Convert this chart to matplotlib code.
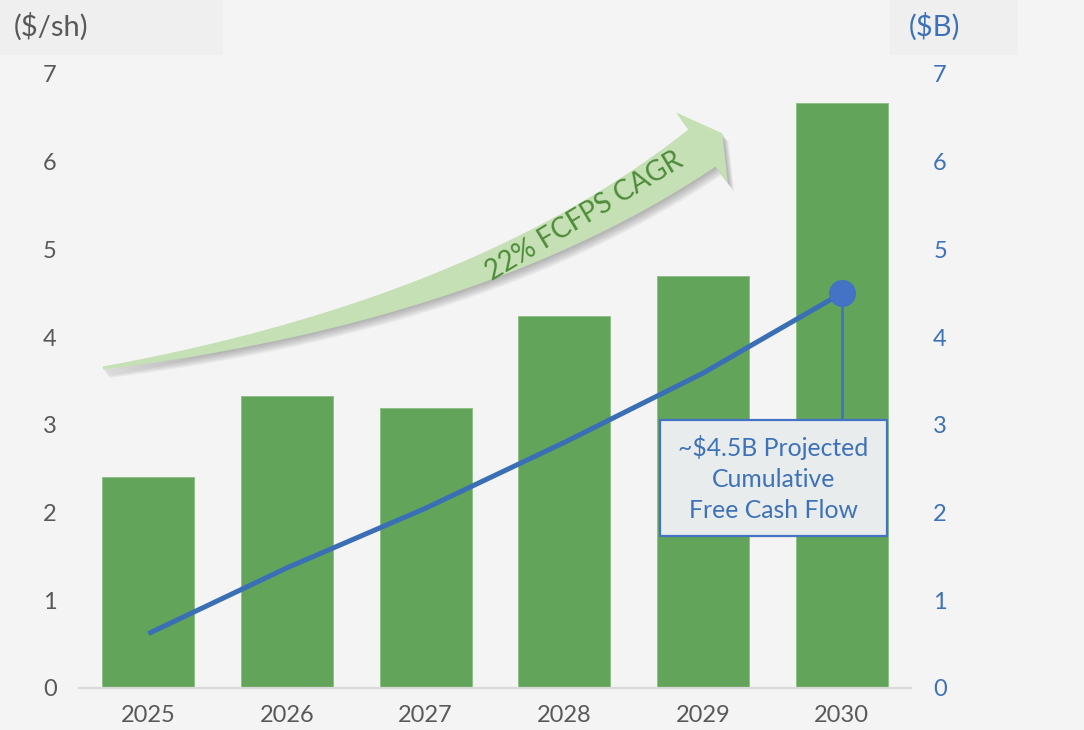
import numpy as np
import matplotlib.pyplot as plt
from matplotlib.patches import Polygon, Rectangle

plt.rcParams['font.family'] = ['Lato', 'DejaVu Sans']

# Free cash flow per share (bars) and cumulative free cash flow (line)
years = ['2025', '2026', '2027', '2028', '2029', '2030']
fcfps = [2.41, 3.33, 3.19, 4.24, 4.70, 6.67]          # $/sh
cum_fcf = [0.62, 1.37, 2.05, 2.80, 3.59, 4.5]          # $B
y_ticks = [0, 1, 2, 3, 4, 5, 6, 7]
cagr_label = '22% FCFPS CAGR'
box_lines = ['~$4.5B Projected', 'Cumulative', 'Free Cash Flow']

BG = '#f4f4f4'
HEADER_BG = '#efefef'
BAR_GREEN = '#62a55a'
ARROW_GREEN = '#c5e0b4'
TEXT_GREEN = '#4e8b3a'
LINE_BLUE = '#3a6fb5'
DOT_BLUE = '#4472c4'
AXIS_BLUE = '#3d72b8'
GREY_TXT = '#595959'

W, H = 1084, 730
fig = plt.figure(figsize=(W / 100, H / 100), dpi=100, facecolor=BG)

# header strips behind the axis unit labels
fig.add_artist(Rectangle((0, 1 - 55 / H), 223 / W, 55 / H, transform=fig.transFigure,
                         facecolor=HEADER_BG, edgecolor='none', zorder=-1))
fig.add_artist(Rectangle((890 / W, 1 - 55 / H), 128 / W, 55 / H, transform=fig.transFigure,
                         facecolor=HEADER_BG, edgecolor='none', zorder=-1))
fig.text(51.5 / W, 1 - 27 / H, '($/sh)', ha='center', va='center', fontsize=21, color=GREY_TXT)
fig.text(935 / W, 1 - 27 / H, '($B)', ha='center', va='center', fontsize=21, color=AXIS_BLUE)

ax = fig.add_axes([79 / W, 1 - 688 / H, (911 - 79) / W, (688 - 74) / H])
ax.set_facecolor('none')
x = np.arange(len(years))
ax.bar(x, fcfps, width=0.665, color=BAR_GREEN, edgecolor='#8fc186', linewidth=0.7, zorder=2)
ax.set_xlim(-0.5, len(years) - 0.5)
ax.set_ylim(0, 7)
ax.set_yticks(y_ticks)
ax.set_xticks(x)
ax.set_xticklabels(years)
ax.tick_params(axis='y', length=0, pad=16, labelsize=17, colors=GREY_TXT)
ax.tick_params(axis='x', length=0, pad=12, labelsize=17, colors=GREY_TXT)
for s in ['top', 'left', 'right']:
    ax.spines[s].set_visible(False)
ax.spines['bottom'].set_color('#d9d9d9')
ax.spines['bottom'].set_linewidth(1.6)

ax2 = ax.twinx()
ax2.set_ylim(0, 7)
ax2.set_yticks(y_ticks)
ax2.tick_params(axis='y', length=0, pad=16, labelsize=17, colors=AXIS_BLUE)
for s in ax2.spines.values():
    s.set_visible(False)
ax2.plot(x, cum_fcf, color=LINE_BLUE, lw=3.6, solid_capstyle='butt', zorder=3)

# overlay in pixel units for the curved arrow and the callout
ov = fig.add_axes([0, 0, 1, 1], zorder=3)
ov.set_xlim(0, W)
ov.set_ylim(H, 0)
ov.axis('off')
ov.patch.set_alpha(0)

# connector from the 2030 point down to the callout box
box_x, box_y, box_w, box_h = 660, 420, 227, 116
px = ax2.transData.transform((x[-1], cum_fcf[-1]))
px_top = ov.transData.inverted().transform(px)
ov.plot([px_top[0], px_top[0]], [px_top[1], box_y], color=DOT_BLUE, lw=2, zorder=1)
ov.plot(px_top[0], px_top[1], 'o', ms=18.5, color=DOT_BLUE, zorder=4)

ov.add_patch(Rectangle((box_x, box_y), box_w, box_h, facecolor='#e9ecec',
                       edgecolor=DOT_BLUE, lw=1.6, zorder=5))
for i, line in enumerate(box_lines):
    ov.text(box_x + box_w / 2, 448 + i * 31.5, line, ha='center', va='center',
            fontsize=17.8, color=AXIS_BLUE, zorder=6)

# curved growth arrow: quadratic bezier body that widens toward the head
P0 = np.array([103.0, 368.0])
C = np.array([480.0, 310.0])
P2 = np.array([702.0, 148.0])
t = np.linspace(0, 1, 200)[:, None]
curve = (1 - t) ** 2 * P0 + 2 * t * (1 - t) * C + t ** 2 * P2
deriv = 2 * (1 - t) * (C - P0) + 2 * t * (P2 - C)
d = deriv / np.linalg.norm(deriv, axis=1, keepdims=True)
n = np.column_stack([d[:, 1], -d[:, 0]])
w = 3 + 43 * t
upper = curve + n * w / 2
lower = curve - n * w / 2
d_end, n_end = d[-1], n[-1]
head = [P2 + n_end * 44, P2 + d_end * 25, P2 - n_end * 44]
arrow_pts = np.vstack([upper, head, lower[::-1]])

for k in range(1, 8):
    ov.add_patch(Polygon(arrow_pts + np.array([0.9 * k, 1.2 * k]), closed=True,
                         facecolor='#555555', edgecolor='none', alpha=0.065, zorder=2))
ov.add_patch(Polygon(arrow_pts, closed=True, facecolor=ARROW_GREEN, edgecolor='none', zorder=3))
ov.text(584, 216, cagr_label, rotation=31, rotation_mode='anchor', ha='center', va='center',
        fontsize=20, color=TEXT_GREEN, zorder=4)

fig.savefig('out.png', dpi=100, facecolor=BG)
